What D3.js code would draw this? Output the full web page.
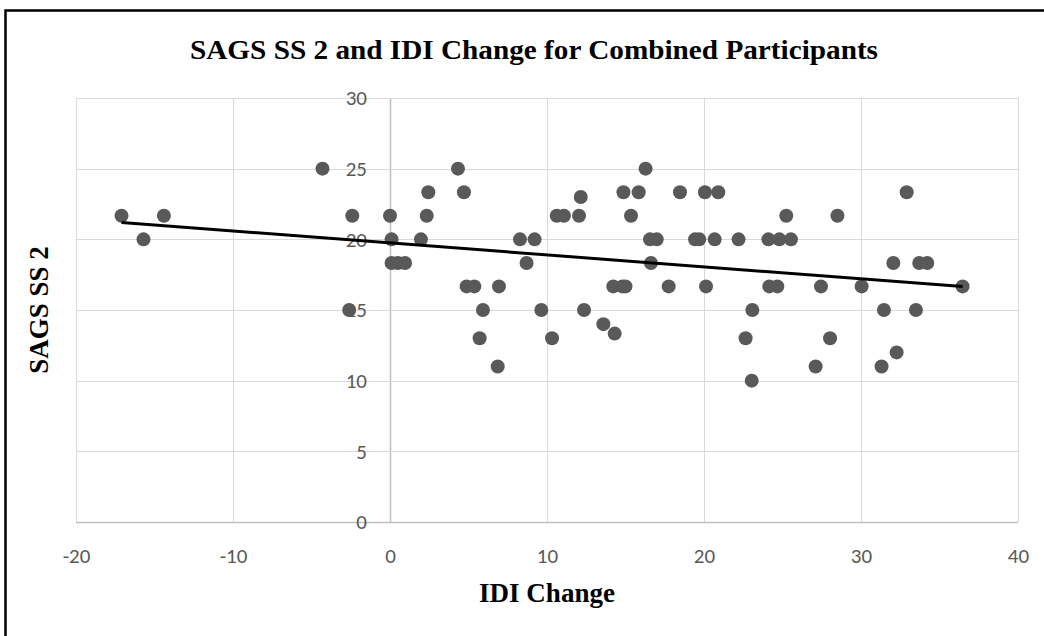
<!DOCTYPE html>
<html>
<head>
<meta charset="utf-8">
<script src="https://cdn.jsdelivr.net/npm/d3@7"></script>
<style>
  body { margin: 0; background: #fff; }
  svg { display: block; }
</style>
</head>
<body>
<div id="chart"></div>
<script>
// IDI Change (x) and SAGS SS 2 (y)
var idiChange = [
  -17.1, -15.7, -14.4, -4.3, -2.4, -2.6,
  0.0, 0.1, 0.1, 0.5, 0.96, 2.44, 2.34, 1.97,
  4.33, 4.71, 4.88, 5.37, 6.94, 5.92, 5.71, 6.86,
  8.28, 9.21, 8.7, 9.64, 10.32, 10.62, 11.08, 12.04, 12.15, 12.36,
  13.59, 14.31, 14.22, 14.8, 15.0, 14.87, 15.84, 16.28, 15.35,
  16.56, 16.99, 16.62, 17.75, 18.47, 19.43, 19.7,
  20.06, 20.91, 20.68, 22.2, 20.13, 23.08, 22.65, 23.04,
  24.1, 24.8, 25.54, 25.24, 24.16, 24.67, 27.45, 28.5, 27.11, 28.03,
  30.04, 32.91, 32.06, 33.71, 34.22, 31.46, 33.5, 32.27, 31.31, 36.47
];
var sagsSS2 = [
  21.67, 20, 21.67, 25, 21.67, 15,
  21.67, 20, 18.33, 18.33, 18.33, 23.33, 21.67, 20,
  25, 23.33, 16.67, 16.67, 16.67, 15, 13, 11,
  20, 20, 18.33, 15, 13, 21.67, 21.67, 21.67, 23, 15,
  14, 13.33, 16.67, 16.67, 16.67, 23.33, 23.33, 25, 21.67,
  20, 20, 18.33, 16.67, 23.33, 20, 20,
  23.33, 23.33, 20, 20, 16.67, 15, 13, 10,
  20, 20, 20, 21.67, 16.67, 16.67, 16.67, 21.67, 11, 13,
  16.67, 23.33, 18.33, 18.33, 18.33, 15, 15, 12, 11, 16.67
];
var xTicks = [-20, -10, 0, 10, 20, 30, 40];
var yTicks = [0, 5, 10, 15, 20, 25, 30];

var chartTitle = "SAGS SS 2 and IDI Change for Combined Participants";
var xTitle = "IDI Change";
var yTitle = "SAGS SS 2";

var W = 1044, H = 636;
var margin = { top: 98, right: 26, bottom: 114, left: 76 };
var width = W - margin.left - margin.right,
    height = H - margin.top - margin.bottom;

var points = idiChange.map(function(x, i) { return { x: x, y: sagsSS2[i] }; });

var svg = d3.select("#chart").append("svg")
    .attr("width", W)
    .attr("height", H);

// frame
svg.append("path")
    .attr("d", "M5.5," + H + "V10.5H" + W)
    .attr("fill", "none")
    .attr("stroke", "#000")
    .attr("stroke-width", 2.5);

var g = svg.append("g")
    .attr("transform", "translate(" + margin.left + "," + margin.top + ")");

var x = d3.scaleLinear().domain([-20, 40]).range([0, width]);
var y = d3.scaleLinear().domain([0, 30]).range([height, 0]);

// gridlines
g.selectAll(".vgrid").data(xTicks).enter().append("line")
    .attr("x1", function(d) { return Math.round(x(d)) + 0.5; })
    .attr("x2", function(d) { return Math.round(x(d)) + 0.5; })
    .attr("y1", 0).attr("y2", height)
    .attr("stroke", function(d) { return d === 0 ? "#bfbfbf" : "#d9d9d9"; })
    .attr("stroke-width", function(d) { return d === 0 ? 1.5 : 1; });

g.selectAll(".hgrid").data(yTicks).enter().append("line")
    .attr("x1", 0).attr("x2", width)
    .attr("y1", function(d) { return Math.round(y(d)) + 0.5; })
    .attr("y2", function(d) { return Math.round(y(d)) + 0.5; })
    .attr("stroke", function(d) { return d === 0 ? "#bfbfbf" : "#d9d9d9"; })
    .attr("stroke-width", function(d) { return d === 0 ? 1.5 : 1; });

var tickFmt = function(d) { return String(d); };

// x tick labels
var xAxis = g.append("g")
    .attr("transform", "translate(0," + height + ")")
    .call(d3.axisBottom(x).tickValues(xTicks).tickSize(0).tickPadding(26).tickFormat(tickFmt));
xAxis.select(".domain").remove();
xAxis.selectAll("text")
    .attr("font-family", "Carlito, 'Liberation Sans', sans-serif")
    .attr("font-size", "21px")
    .attr("fill", "#595959");

// y tick labels sit at x = 0
var yAxis = g.append("g")
    .attr("transform", "translate(" + x(0) + ",0)")
    .call(d3.axisLeft(y).tickValues(yTicks).tickSize(0).tickPadding(23).tickFormat(tickFmt));
yAxis.select(".domain").remove();
yAxis.selectAll("text")
    .attr("font-family", "Carlito, 'Liberation Sans', sans-serif")
    .attr("font-size", "21px")
    .attr("fill", "#595959");

// points
g.selectAll(".dot").data(points).enter().append("circle")
    .attr("cx", function(d) { return x(d.x); })
    .attr("cy", function(d) { return y(d.y); })
    .attr("r", 7)
    .attr("fill", "#595959");

// linear trendline (least squares)
var mx = d3.mean(points, function(d) { return d.x; }),
    my = d3.mean(points, function(d) { return d.y; });
var sxy = d3.sum(points, function(d) { return (d.x - mx) * (d.y - my); }),
    sxx = d3.sum(points, function(d) { return (d.x - mx) * (d.x - mx); });
var slope = sxy / sxx, intercept = my - slope * mx;
var xExt = d3.extent(points, function(d) { return d.x; });

g.append("line")
    .attr("x1", x(xExt[0])).attr("y1", y(intercept + slope * xExt[0]))
    .attr("x2", x(xExt[1])).attr("y2", y(intercept + slope * xExt[1]))
    .attr("stroke", "#000")
    .attr("stroke-width", 3);

// titles
svg.append("text")
    .attr("x", 534)
    .attr("y", 59)
    .attr("text-anchor", "middle")
    .attr("font-family", "'Liberation Serif', 'Times New Roman', serif")
    .attr("font-weight", "bold")
    .attr("font-size", "27px")
    .attr("textLength", 688)
    .attr("lengthAdjust", "spacingAndGlyphs")
    .attr("fill", "#000")
    .text(chartTitle);

svg.append("text")
    .attr("x", margin.left + width / 2)
    .attr("y", 602)
    .attr("text-anchor", "middle")
    .attr("font-family", "'Liberation Serif', 'Times New Roman', serif")
    .attr("font-weight", "bold")
    .attr("font-size", "27px")
    .attr("fill", "#000")
    .text(xTitle);

svg.append("text")
    .attr("transform", "translate(48," + (margin.top + height / 2) + ") rotate(-90)")
    .attr("text-anchor", "middle")
    .attr("font-family", "'Liberation Serif', 'Times New Roman', serif")
    .attr("font-weight", "bold")
    .attr("font-size", "27px")
    .attr("fill", "#000")
    .text(yTitle);
</script>
</body>
</html>
